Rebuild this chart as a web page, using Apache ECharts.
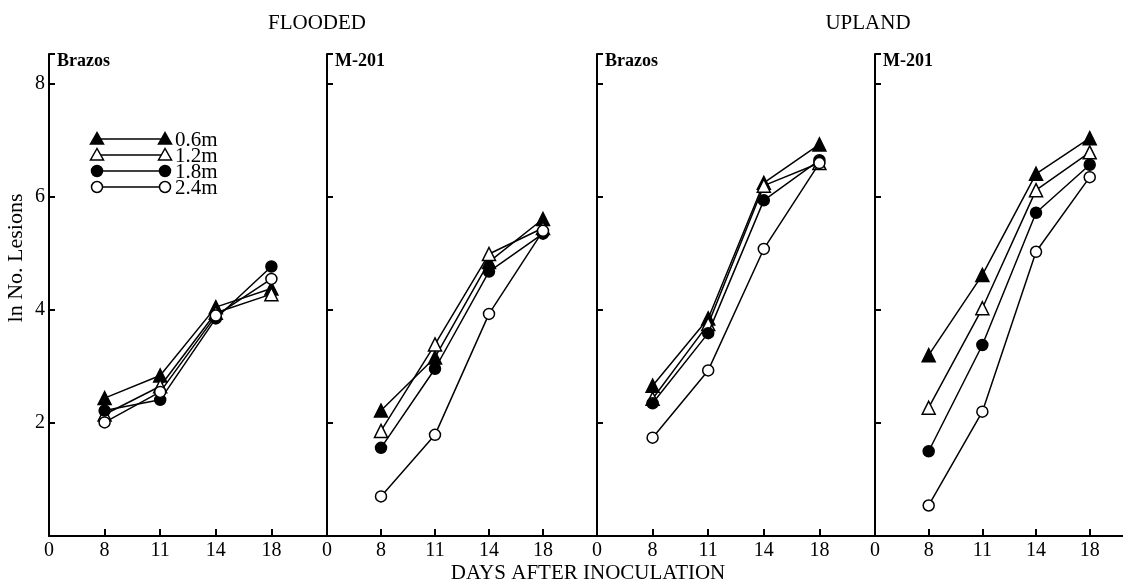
<!DOCTYPE html>
<html>
<head>
<meta charset="utf-8">
<script src="https://cdn.jsdelivr.net/npm/echarts@6/dist/echarts.min.js"></script>
<style>
html,body{margin:0;padding:0;background:#fff;}
#chart{width:1123px;height:586px;}
</style>
</head>
<body>
<div id="chart"></div>
<script>
// ---- data ----
// x positions are ordinal: day labels are evenly spaced along each panel's axis
const dayLabels = ['0', '8', '11', '14', '18'];
const sampleDays = ['8', '11', '14', '18'];
const heights = ['0.6m', '1.2m', '1.8m', '2.4m'];
const regimes = ['FLOODED', 'UPLAND'];
const panelNames = ['Brazos', 'M-201', 'Brazos', 'M-201'];
const yTickValues = [2, 4, 6, 8];

const floodedBrazos06 = [2.44, 2.84, 4.05, 4.38];
const floodedBrazos12 = [2.15, 2.65, 3.95, 4.28];
const floodedBrazos18 = [2.22, 2.41, 3.85, 4.77];
const floodedBrazos24 = [2.01, 2.55, 3.90, 4.55];

const floodedM201_06 = [2.22, 3.16, 4.85, 5.61];
const floodedM201_12 = [1.86, 3.39, 4.99, 5.45];
const floodedM201_18 = [1.56, 2.96, 4.68, 5.35];
const floodedM201_24 = [0.70, 1.79, 3.93, 5.40];

const uplandBrazos06 = [2.66, 3.85, 6.25, 6.93];
const uplandBrazos12 = [2.43, 3.75, 6.20, 6.60];
const uplandBrazos18 = [2.35, 3.59, 5.94, 6.65];
const uplandBrazos24 = [1.74, 2.93, 5.08, 6.60];

const uplandM201_06 = [3.20, 4.62, 6.41, 7.04];
const uplandM201_12 = [2.27, 4.03, 6.12, 6.79];
const uplandM201_18 = [1.50, 3.38, 5.72, 6.57];
const uplandM201_24 = [0.54, 2.20, 5.03, 6.35];

const panelData = [
  [floodedBrazos06, floodedBrazos12, floodedBrazos18, floodedBrazos24],
  [floodedM201_06, floodedM201_12, floodedM201_18, floodedM201_24],
  [uplandBrazos06, uplandBrazos12, uplandBrazos18, uplandBrazos24],
  [uplandM201_06, uplandM201_12, uplandM201_18, uplandM201_24]
];

// ---- styles / layout ----
const FONT = '"Liberation Serif", "DejaVu Serif", serif';
const markerStyles = [
  { symbol: 'triangle', size: 13, fill: '#000' },
  { symbol: 'triangle', size: 13, fill: '#fff' },
  { symbol: 'circle', size: 11, fill: '#000' },
  { symbol: 'circle', size: 11, fill: '#fff' }
];
// each panel: left edge, width, and axis extent in "day slots"
const gridBoxes = [
  { left: 49, width: 278, slots: 5 },
  { left: 327, width: 270, slots: 5 },
  { left: 597, width: 278, slots: 5 },
  { left: 875, width: 248, slots: 4.62 }
];
const GRID_TOP = 54, GRID_H = 482;

const chart = echarts.init(document.getElementById('chart'), null, { renderer: 'canvas' });

const grid = gridBoxes.map(g => ({ left: g.left, top: GRID_TOP, width: g.width, height: GRID_H, containLabel: false }));

const xAxis = gridBoxes.map((g, i) => ({
  type: 'value',
  gridIndex: i,
  min: 0,
  max: g.slots,
  interval: 1,
  axisLine: { show: true, onZero: false, lineStyle: { color: '#000', width: 2 } },
  axisTick: { show: true, inside: true, length: 7, lineStyle: { color: '#000', width: 2 } },
  axisLabel: {
    show: true, color: '#000', fontSize: 20, fontFamily: FONT, margin: 5,
    showMinLabel: true, showMaxLabel: false,
    formatter: v => (Number.isInteger(v) && dayLabels[v] !== undefined ? dayLabels[v] : '')
  },
  splitLine: { show: false }
}));

const yAxis = gridBoxes.map((g, i) => ({
  type: 'value',
  gridIndex: i,
  min: 0,
  max: 8.53,
  interval: 2,
  axisLine: { show: true, onZero: false, lineStyle: { color: '#000', width: 2 } },
  axisTick: { show: true, inside: true, length: 6, lineStyle: { color: '#000', width: 2 } },
  axisLabel: {
    show: i === 0,
    color: '#000', fontSize: 20, fontFamily: FONT, margin: 4,
    formatter: v => (yTickValues.indexOf(v) >= 0 ? String(v) : '')
  },
  splitLine: { show: false }
}));

const series = [];
panelData.forEach((sets, p) => {
  sets.forEach((vals, h) => {
    const m = markerStyles[h];
    series.push({
      type: 'line',
      name: heights[h],
      xAxisIndex: p,
      yAxisIndex: p,
      data: sampleDays.map((d, k) => [dayLabels.indexOf(d), vals[k]]),
      symbol: m.symbol,
      symbolSize: m.size,
      showAllSymbol: true,
      lineStyle: { color: '#000', width: 1.5 },
      itemStyle: { color: m.fill, borderColor: '#000', borderWidth: 1.5 },
      z: 3 + h,
      animation: false,
      silent: true
    });
  });
});

// ---- text & legend graphics ----
const graphic = [];
const txt = (text, x, y, size, opts = {}) => ({
  type: 'text', x, y, rotation: opts.rotation || 0, silent: true,
  style: {
    text, fill: '#000', fontSize: size, fontFamily: FONT, fontWeight: opts.weight || 'normal',
    align: opts.align || 'center', verticalAlign: 'middle'
  }
});
graphic.push(txt(regimes[0], 317, 23, 21));
graphic.push(txt(regimes[1], 868, 23, 21));
graphic.push(txt('DAYS AFTER INOCULATION', 588, 573, 21));
graphic.push(txt('ln No. Lesions', 16, 258, 22, { rotation: Math.PI / 2 }));
panelNames.forEach((n, i) => {
  graphic.push(txt(n, gridBoxes[i].left + 8, 61, 18, { align: 'left', weight: 'bold' }));
});

const legendX1 = 97, legendX2 = 165, legendTextX = 175;
const legendY = [139, 155, 171, 187];
const markerShape = (m, x, y) => {
  if (m.symbol === 'triangle') {
    return { type: 'polygon', silent: true, z: 10,
      shape: { points: [[x, y - 6.5], [x - 6.5, y + 5], [x + 6.5, y + 5]] },
      style: { fill: m.fill, stroke: '#000', lineWidth: 1.5 } };
  }
  return { type: 'circle', silent: true, z: 10,
    shape: { cx: x, cy: y, r: 5.5 },
    style: { fill: m.fill, stroke: '#000', lineWidth: 1.5 } };
};
heights.forEach((h, i) => {
  const y = legendY[i];
  const m = markerStyles[i];
  graphic.push({ type: 'line', silent: true, z: 9,
    shape: { x1: legendX1, y1: y, x2: legendX2, y2: y },
    style: { stroke: '#000', lineWidth: 1.5 } });
  graphic.push(markerShape(m, legendX1, y));
  graphic.push(markerShape(m, legendX2, y));
  graphic.push(txt(h, legendTextX, y + 1, 21, { align: 'left' }));
});

chart.setOption({
  backgroundColor: '#fff',
  animation: false,
  grid, xAxis, yAxis, series, graphic
});
</script>
</body>
</html>
